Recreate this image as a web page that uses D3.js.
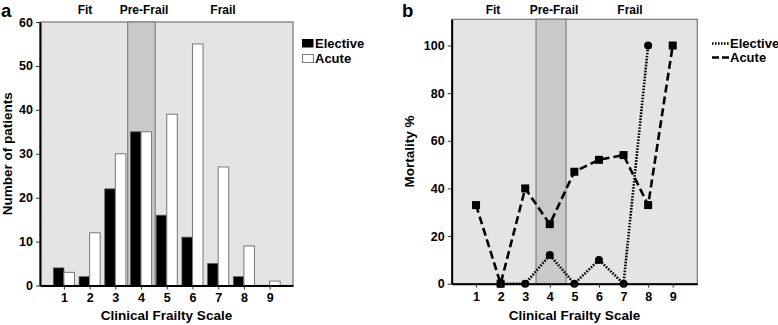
<!DOCTYPE html>
<html><head><meta charset="utf-8">
<script src="https://cdn.jsdelivr.net/npm/d3@7"></script>
<style>body{margin:0;background:#fff}svg{display:block;font-family:"Liberation Sans",Arial,sans-serif;font-weight:bold}</style>
</head><body>
<svg id="c" width="778" height="325"></svg>
<script>
const categories = [1,2,3,4,5,6,7,8,9];
const electiveCounts = [4,2,22,35,16,11,5,2,0];
const acuteCounts = [3,12,30,35,39,55,27,9,1];
const electiveMortality = [null,0,0,12,0,10,0,100,null];
const acuteMortality = [33,0,40,25,47,52,54,33,100];
const countTicks = [0,10,20,30,40,50,60];
const mortalityTicks = [0,20,40,60,80,100];
const groupLabels = ["Fit","Pre-Frail","Frail"];

const svg = d3.select("#c");

function frame(g, x, y, band, groupX) {
  const [x0,x1] = x.range(), [y0,y1] = y.range();
  g.append("rect").attr("x",x0).attr("y",y1).attr("width",x1-x0).attr("height",y0-y1).attr("fill","#e4e4e4").attr("stroke","#777").attr("stroke-width",1.2);
  g.append("rect").attr("x",x(band[0])).attr("y",y1).attr("width",x(band[1])-x(band[0])).attr("height",y0-y1).attr("fill","#c9c9c9").attr("stroke","#808080").attr("stroke-width",1.2);
  g.selectAll(".gl").data(groupLabels).join("text").attr("x",(d,i)=>groupX[i]).attr("y",14).attr("text-anchor","middle").attr("font-size",12).text(d=>d);
}
function axes(g, x, y, ticks, xlabel, ylabel, ylx) {
  const [x0,x1] = x.range(), [y0,y1] = y.range();
  const ya = g.append("g").attr("transform",`translate(${x0},0)`).call(d3.axisLeft(y).tickValues(ticks).tickSize(4).tickPadding(3).tickSizeOuter(0));
  ya.select(".domain").attr("stroke","#000").attr("stroke-width",2);
  ya.selectAll("text").attr("font-size",12.5).attr("font-weight","bold").attr("font-family","Liberation Sans, Arial");
  ya.selectAll("line").attr("stroke","#333");
  const xa = g.append("g").attr("transform",`translate(0,${y0})`).call(d3.axisBottom(x).tickValues(categories).tickSize(4).tickPadding(4).tickSizeOuter(0));
  xa.select(".domain").attr("stroke","#000").attr("stroke-width",2);
  xa.selectAll("text").attr("font-size",12.5).attr("font-weight","bold").attr("font-family","Liberation Sans, Arial");
  xa.selectAll("line").attr("stroke","#333");
  g.append("text").attr("x",(x0+x1)/2).attr("y",320).attr("text-anchor","middle").attr("font-size",13.5).text(xlabel);
  g.append("text").attr("transform",`translate(${ylx},${(y0+y1)/2}) rotate(-90)`).attr("text-anchor","middle").attr("font-size",13.5).text(ylabel);
}

// Panel a
{
  const g = svg.append("g");
  const x = d3.scaleLinear().domain([0.07,9.91]).range([40,293]);
  const y = d3.scaleLinear().domain([0,60]).range([285.5,22]);
  frame(g, x, y, [3.48,4.55], [85,144,223]);
  const bw = (x(1)-x(0))*0.41;
  g.selectAll(".be").data(categories).join("rect").attr("x",d=>x(d)-bw).attr("width",bw)
    .attr("y",(d,i)=>y(electiveCounts[i])).attr("height",(d,i)=>y(0)-y(electiveCounts[i]))
    .attr("fill","#000").attr("stroke","#555").attr("stroke-width",0.8);
  g.selectAll(".ba").data(categories).join("rect").attr("x",d=>x(d)).attr("width",bw)
    .attr("y",(d,i)=>y(acuteCounts[i])).attr("height",(d,i)=>y(0)-y(acuteCounts[i]))
    .attr("fill","#fff").attr("stroke","#777").attr("stroke-width",1);
  axes(g, x, y, countTicks, "Clinical Frailty Scale", "Number of patients", 12);
  g.append("text").attr("x",1).attr("y",17).attr("font-size",18.5).text("a");
  const lg = g.append("g");
  lg.append("rect").attr("x",302).attr("y",39).attr("width",11.5).attr("height",8.5).attr("fill","#000");
  lg.append("rect").attr("x",302.5).attr("y",54.5).attr("width",11).attr("height",8).attr("fill","#fff").attr("stroke","#777");
  lg.append("text").attr("x",315).attr("y",48).attr("font-size",13).text("Elective");
  lg.append("text").attr("x",315).attr("y",63).attr("font-size",13).text("Acute");
}

// Panel b
{
  const g = svg.append("g");
  const x = d3.scaleLinear().domain([0.01,10]).range([451.7,697.3]);
  const y = d3.scaleLinear().domain([0,111]).range([283.7,19.3]);
  frame(g, x, y, [3.44,4.66], [493,554,630]);
  const line = d3.line().defined(d=>d[1]!=null).x(d=>x(d[0])).y(d=>y(d[1]));
  const ae = categories.map((c,i)=>[c,acuteMortality[i]]);
  const ee = categories.map((c,i)=>[c,electiveMortality[i]]);
  g.append("path").attr("d",line(ae)).attr("fill","none").attr("stroke","#000").attr("stroke-width",2.6).attr("stroke-dasharray","8,4");
  g.append("path").attr("d",line(ee)).attr("fill","none").attr("stroke","#000").attr("stroke-width",2.6).attr("stroke-dasharray","1.6,1.4");
  g.selectAll(".sq").data(ae).join("rect").attr("x",d=>x(d[0])-4).attr("y",d=>y(d[1])-4).attr("width",8).attr("height",8).attr("fill","#000");
  g.selectAll(".ci").data(ee.filter(d=>d[1]!=null)).join("circle").attr("cx",d=>x(d[0])).attr("cy",d=>y(d[1])).attr("r",4).attr("fill","#000");
  axes(g, x, y, mortalityTicks, "Clinical Frailty Scale", "Mortality %", 414);
  g.append("text").attr("x",402).attr("y",17).attr("font-size",18.5).text("b");
  const lg = g.append("g");
  lg.append("line").attr("x1",712).attr("x2",729).attr("y1",43.5).attr("y2",43.5).attr("stroke","#000").attr("stroke-width",2.4).attr("stroke-dasharray","1.6,1.4");
  lg.append("line").attr("x1",712).attr("x2",729).attr("y1",57.5).attr("y2",57.5).attr("stroke","#000").attr("stroke-width",2.4).attr("stroke-dasharray","7,3");
  lg.append("text").attr("x",730).attr("y",48).attr("font-size",13).text("Elective");
  lg.append("text").attr("x",730).attr("y",62).attr("font-size",13).text("Acute");
}
</script>
</body></html>
